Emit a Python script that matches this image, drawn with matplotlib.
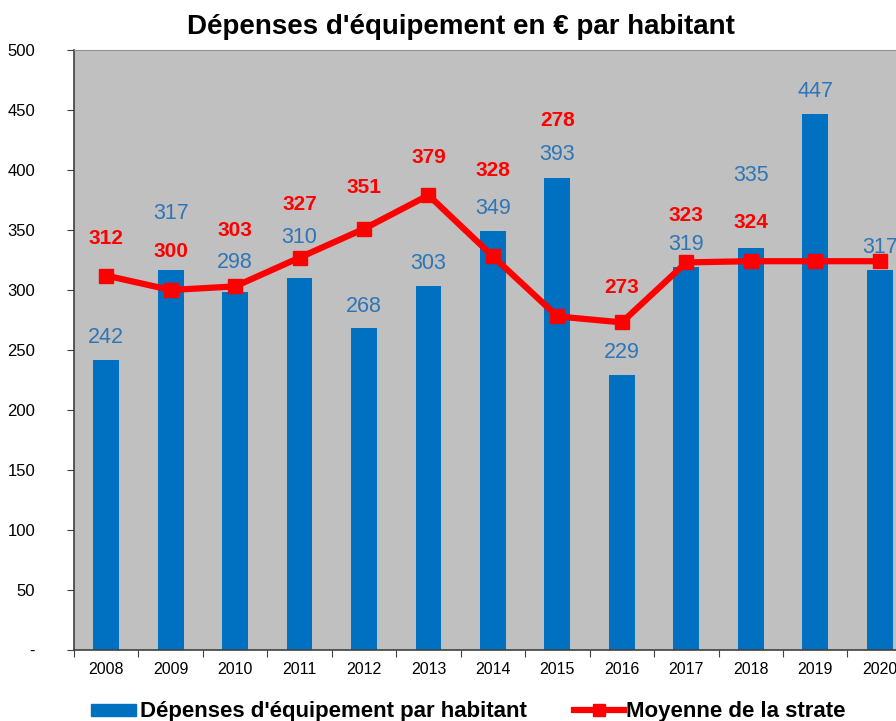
import numpy as np
import matplotlib
matplotlib.use("Agg")
import matplotlib.pyplot as plt
from matplotlib.lines import Line2D
from matplotlib.patches import Patch

plt.rcParams['font.family'] = ['Liberation Sans', 'DejaVu Sans']

# data
annees = ['2008', '2009', '2010', '2011', '2012', '2013', '2014',
          '2015', '2016', '2017', '2018', '2019', '2020']
depenses = [242, 317, 298, 310, 268, 303, 349, 393, 229, 319, 335, 447, 317]
moyenne_strate = [312, 300, 303, 327, 351, 379, 328, 278, 273, 323, 324, 324, 324]
montre_moyenne = [True] * 11 + [False, False]   # no red labels on the last two

# label offsets above the mark (pixels), hand placed like the original
decal_bleu = [22, 56, 30, 41, 22, 23, 23, 24, 23, 23, 73, 22, 22]
decal_rouge = [37, 39, 56, 53, 41, 38, 86, 196, 35, 47, 39, 0, 0]

BLEU = '#0070C0'
BLEU_TXT = '#2E75B6'
ROUGE = '#FF0000'

W, H = 896, 721
fig = plt.figure(figsize=(W / 100, H / 100), dpi=100)
# plot area runs past the right edge (the source image was cropped)
x0, x1 = 74, 74 + 13 * 64.45
y0, y1 = 650, 50
ax = fig.add_axes([x0 / W, 1 - y0 / H, (x1 - x0) / W, (y0 - y1) / H])
ax.set_facecolor('#C0C0C0')

x = np.arange(len(annees))
ax.bar(x, depenses, width=0.4, color=BLEU, zorder=2)
ax.plot(x, moyenne_strate, color=ROUGE, lw=4.5, marker='s', ms=10,
        zorder=3, solid_joinstyle='round')

px_per_unit = (y0 - y1) / 500.0
for i, v in enumerate(depenses):
    ax.text(x[i], v + decal_bleu[i] / px_per_unit, str(v), color=BLEU_TXT,
            fontsize=15.5, ha='center', va='center', zorder=4)
for i, v in enumerate(moyenne_strate):
    if montre_moyenne[i]:
        ax.text(x[i], v + decal_rouge[i] / px_per_unit, str(v), color=ROUGE,
                fontsize=15, fontweight='bold', ha='center', va='center', zorder=4)

ax.set_xlim(-0.5, len(annees) - 0.5)
ax.set_ylim(0, 500)
ax.set_yticks(np.arange(0, 501, 50))
ax.set_yticklabels(['-'] + [str(v) for v in range(50, 501, 50)])
ax.tick_params(axis='y', length=5, pad=23, labelsize=12, color='#404040')

ax.set_xticks(np.arange(-0.5, len(annees), 1))
ax.set_xticklabels([])
ax.set_xticks(x, minor=True)
ax.set_xticklabels(annees, minor=True)
ax.tick_params(axis='x', which='major', length=5, color='#404040')
ax.tick_params(axis='x', which='minor', length=0, pad=9, labelsize=11.5)

for s in ['left', 'bottom']:
    ax.spines[s].set_color('#404040')
    ax.spines[s].set_linewidth(1.2)
ax.spines['top'].set_color('#909090')
ax.spines['right'].set_visible(False)

fig.text(461 / W, 1 - 27 / H, "Dépenses d'équipement en € par habitant",
         ha='center', va='center', fontsize=20, fontweight='bold')

leg_y = 1 - 712 / H
fig.legend(handles=[Patch(color=BLEU, label="Dépenses d'équipement par habitant")],
           loc='center left', bbox_to_anchor=(80 / W, leg_y),
           frameon=False, borderpad=0, handlelength=2.0, handleheight=0.45,
           handletextpad=0.22, prop={'size': 16, 'weight': 'bold'})
fig.legend(handles=[Line2D([], [], color=ROUGE, lw=4.5, marker='s', ms=8,
                           label='Moyenne de la strate')],
           loc='center left', bbox_to_anchor=(563 / W, leg_y),
           frameon=False, borderpad=0, handlelength=2.25, handletextpad=0.1,
           prop={'size': 16, 'weight': 'bold'})

fig.savefig('out.png', dpi=100)
